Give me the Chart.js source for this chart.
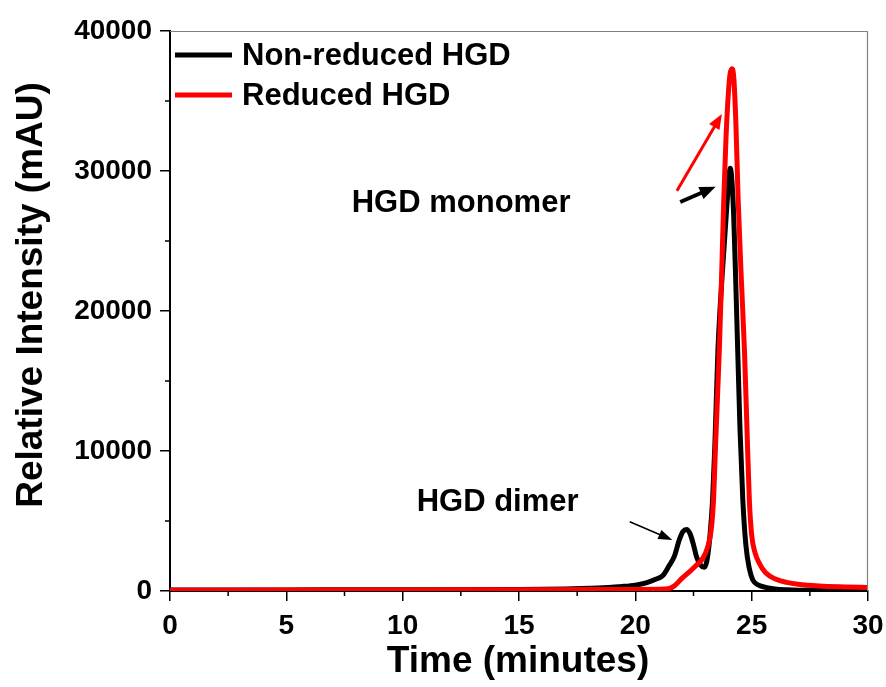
<!DOCTYPE html>
<html>
<head>
<meta charset="utf-8">
<script src="https://cdn.jsdelivr.net/npm/chart.js@4.4.0/dist/chart.umd.min.js"></script>
<style>
  body { margin: 0; background: #fff; }
  #wrap { width: 886px; height: 687px; }
</style>
</head>
<body>
<div id="wrap"><canvas id="hplc" width="886" height="687"></canvas></div>
<script>
// retention time (minutes) and intensity (mAU)
const nonReducedTime = [0, 5, 10, 15, 17, 18, 19, 19.33, 20, 20.5, 20.9, 21.18, 21.45, 21.67, 21.9, 22.05, 22.2, 22.35, 22.5, 22.63, 22.8, 22.96, 23.08, 23.2, 23.32, 23.42, 23.55, 23.75, 23.95, 24.08, 24.2, 24.3, 24.4, 24.5, 24.62, 24.75, 24.9, 25.05, 25.3, 25.6, 26, 26.5, 27, 28, 30];
const nonReducedValues = [70, 80, 90, 110, 150, 190, 260, 307, 420, 600, 850, 1100, 1800, 2450, 3700, 4250, 4400, 4100, 3300, 2450, 1850, 1690, 2200, 3800, 6500, 10500, 17200, 23000, 27900, 30200, 27900, 23000, 17200, 11500, 6500, 3300, 1600, 785, 420, 260, 150, 90, 60, 50, 40];

const reducedTime = [0, 5, 10, 15, 18, 20, 21, 21.47, 21.7, 22.0, 22.33, 22.6, 22.9, 23.1, 23.26, 23.36, 23.45, 23.61, 23.7, 23.8, 23.9, 24.0, 24.07, 24.15, 24.23, 24.32, 24.42, 24.55, 24.69, 24.8, 24.9, 25.0, 25.15, 25.33, 25.6, 26.05, 26.5, 27, 27.9, 29, 30];
const reducedValues = [60, 70, 80, 90, 100, 110, 120, 190, 400, 900, 1380, 1800, 2330, 3100, 4360, 6500, 10500, 17200, 22000, 27930, 32500, 35600, 36900, 37300, 36700, 33500, 27930, 22500, 17200, 11500, 6500, 4000, 2700, 1980, 1300, 835, 620, 480, 357, 290, 250];

const xTicks = [0, 5, 10, 15, 20, 25, 30];
const xMinor = [2.5, 7.5, 12.5, 17.5, 22.5, 27.5];
const yTicks = [0, 10000, 20000, 30000, 40000];
const yMinor = [5000, 15000, 25000, 35000];

const FONT = '"Liberation Sans", Arial, Helvetica, sans-serif';

function toPoints(xs, ys) {
  return xs.map((x, i) => ({ x: x, y: ys[i] }));
}

// arrows and labels placed in data units
const notes = [
  { text: 'HGD monomer', x: 7.81, y: 27093 },
  { text: 'HGD dimer', x: 10.6, y: 5714 }
];
const arrows = [
  { from: [21.79, 28593], to: [23.72, 34071], color: '#ff0000', width: 3, head: 15, half: 6 },
  { from: [21.93, 27786], to: [23.45, 28879], color: '#000000', width: 4, head: 16, half: 6.5 },
  { from: [19.76, 4950], to: [21.59, 3640], color: '#000000', width: 1.5, head: 14, half: 5 }
];

function drawArrow(ctx, x1, y1, x2, y2, a) {
  const ang = Math.atan2(y2 - y1, x2 - x1);
  const bx = x2 - Math.cos(ang) * a.head;
  const by = y2 - Math.sin(ang) * a.head;
  ctx.strokeStyle = a.color;
  ctx.fillStyle = a.color;
  ctx.lineWidth = a.width;
  ctx.lineCap = 'butt';
  ctx.beginPath();
  ctx.moveTo(x1, y1);
  ctx.lineTo(bx + Math.cos(ang) * 2, by + Math.sin(ang) * 2);
  ctx.stroke();
  ctx.beginPath();
  ctx.moveTo(x2, y2);
  ctx.lineTo(bx - Math.sin(ang) * a.half, by + Math.cos(ang) * a.half);
  ctx.lineTo(bx + Math.sin(ang) * a.half, by - Math.cos(ang) * a.half);
  ctx.closePath();
  ctx.fill();
}

const decor = {
  id: 'decor',
  afterDraw(chart) {
    const ctx = chart.ctx;
    const area = chart.chartArea;
    const xs = chart.scales.x;
    const ys = chart.scales.y;
    ctx.save();

    // thin frame on top and right
    ctx.strokeStyle = '#808080';
    ctx.lineWidth = 1.2;
    ctx.beginPath();
    ctx.moveTo(area.left, area.top + 0.5);
    ctx.lineTo(area.right - 0.5, area.top + 0.5);
    ctx.lineTo(area.right - 0.5, area.bottom);
    ctx.stroke();

    // minor ticks
    ctx.strokeStyle = '#000';
    ctx.lineWidth = 1.5;
    ctx.beginPath();
    xMinor.forEach(v => {
      const px = xs.getPixelForValue(v);
      ctx.moveTo(px, area.bottom);
      ctx.lineTo(px, area.bottom + 5);
    });
    yMinor.forEach(v => {
      const py = ys.getPixelForValue(v);
      ctx.moveTo(area.left, py);
      ctx.lineTo(area.left - 5, py);
    });
    ctx.stroke();

    // legend
    const items = [
      { label: 'Non-reduced HGD', color: '#000000', y: 55 },
      { label: 'Reduced HGD', color: '#ff0000', y: 95 }
    ];
    ctx.font = 'bold 31px ' + FONT;
    ctx.textAlign = 'left';
    items.forEach(it => {
      ctx.strokeStyle = it.color;
      ctx.lineWidth = 5;
      ctx.beginPath();
      ctx.moveTo(175, it.y);
      ctx.lineTo(232, it.y);
      ctx.stroke();
      ctx.fillStyle = '#000';
      ctx.textBaseline = 'alphabetic';
      ctx.fillText(it.label, 242, it.y + 10);
    });

    // annotations
    ctx.font = 'bold 31px ' + FONT;
    ctx.fillStyle = '#000';
    notes.forEach(n => {
      ctx.fillText(n.text, xs.getPixelForValue(n.x), ys.getPixelForValue(n.y));
    });
    arrows.forEach(a => {
      drawArrow(ctx,
        xs.getPixelForValue(a.from[0]), ys.getPixelForValue(a.from[1]),
        xs.getPixelForValue(a.to[0]), ys.getPixelForValue(a.to[1]), a);
    });

    // axis titles
    ctx.fillStyle = '#000';
    ctx.font = 'bold 37px ' + FONT;
    ctx.textAlign = 'center';
    ctx.textBaseline = 'alphabetic';
    ctx.fillText('Time (minutes)', 518, 672);
    ctx.translate(42, 295);
    ctx.rotate(-Math.PI / 2);
    ctx.fillText('Relative Intensity (mAU)', 0, 0);
    ctx.restore();
  }
};

new Chart(document.getElementById('hplc'), {
  type: 'line',
  data: {
    datasets: [
      {
        label: 'Reduced HGD',
        data: toPoints(reducedTime, reducedValues),
        borderColor: '#ff0000',
        backgroundColor: '#ff0000',
        borderWidth: 5,
        pointRadius: 0,
        cubicInterpolationMode: 'monotone',
        order: 1
      },
      {
        label: 'Non-reduced HGD',
        data: toPoints(nonReducedTime, nonReducedValues),
        borderColor: '#000000',
        backgroundColor: '#000000',
        borderWidth: 5,
        pointRadius: 0,
        cubicInterpolationMode: 'monotone',
        order: 2
      }
    ]
  },
  options: {
    responsive: false,
    animation: false,
    layout: { padding: { top: 31, right: 18, left: 0, bottom: 0 } },
    plugins: {
      legend: { display: false },
      tooltip: { enabled: false }
    },
    scales: {
      x: {
        type: 'linear',
        min: 0,
        max: 30,
        afterFit(scale) {
          scale.height = 96;
          scale.paddingLeft = 0;
          scale.paddingRight = 0;
        },
        afterBuildTicks(scale) { scale.ticks = xTicks.map(v => ({ value: v })); },
        border: { display: true, color: '#000', width: 2 },
        grid: { display: true, drawOnChartArea: false, drawTicks: true, tickLength: 10, color: '#000', lineWidth: 1.5 },
        ticks: {
          color: '#000',
          padding: 8,
          maxRotation: 0,
          font: { family: FONT, weight: 'bold', size: 28 }
        }
      },
      y: {
        type: 'linear',
        min: 0,
        max: 40000,
        afterFit(scale) {
          scale.width = 170;
          scale.paddingTop = 0;
          scale.paddingBottom = 0;
        },
        afterBuildTicks(scale) { scale.ticks = yTicks.map(v => ({ value: v })); },
        border: { display: true, color: '#000', width: 2 },
        grid: { display: true, drawOnChartArea: false, drawTicks: true, tickLength: 10, color: '#000', lineWidth: 1.5 },
        ticks: {
          color: '#000',
          padding: 8,
          font: { family: FONT, weight: 'bold', size: 28 },
          callback: v => String(v)
        }
      }
    }
  },
  plugins: [decor]
});
</script>
</body>
</html>
